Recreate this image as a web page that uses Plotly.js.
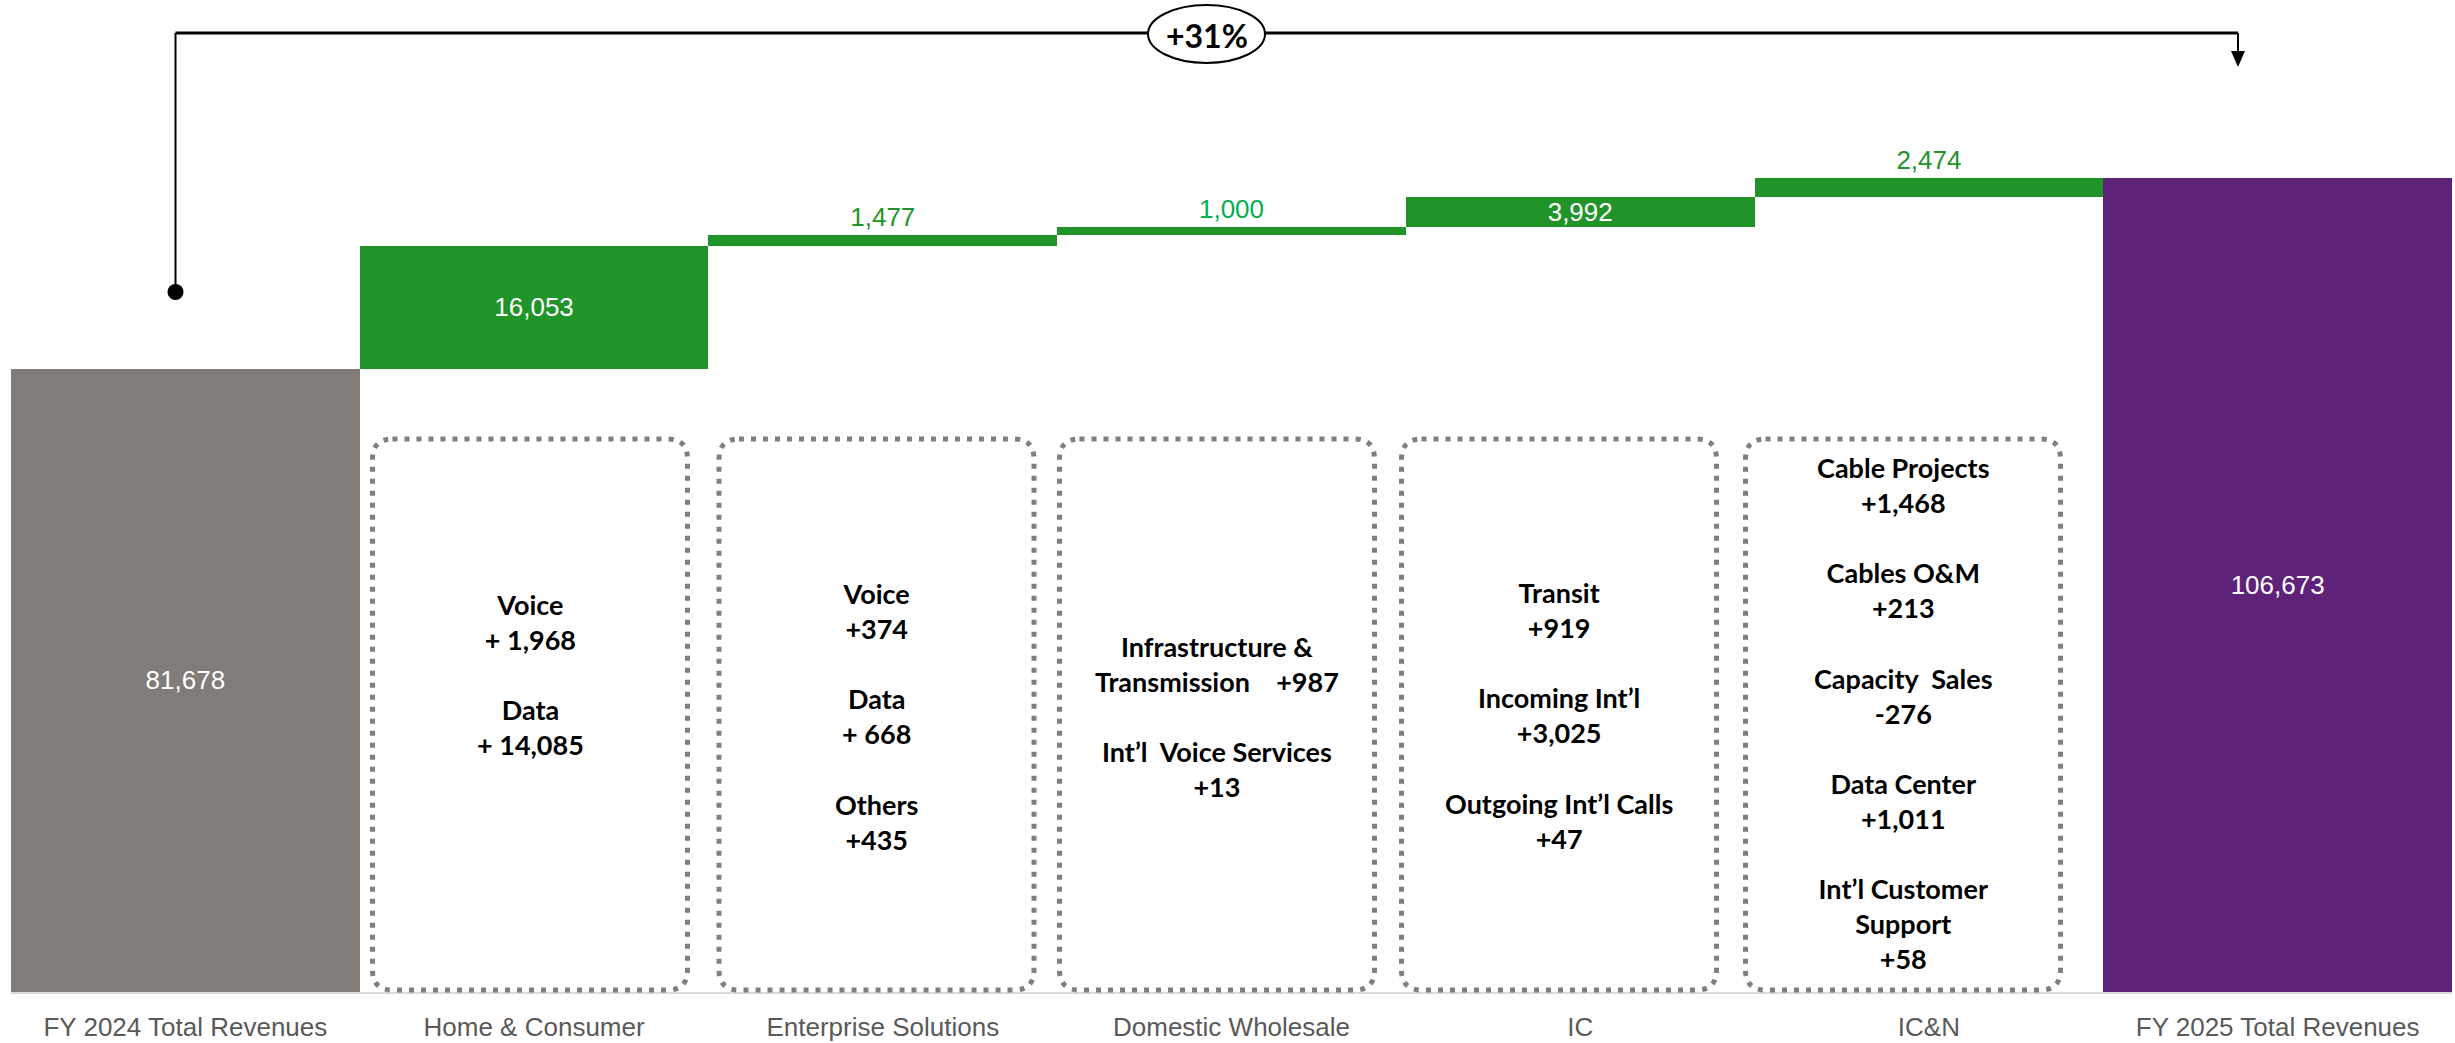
<!DOCTYPE html>
<html>
<head>
<meta charset="utf-8">
<script src="https://cdn.plot.ly/plotly-3.0.1.min.js"></script>
<style>html,body{margin:0;padding:0;background:#fff;}#chart{width:2455px;height:1043px;}</style>
</head>
<body>
<div id="chart"></div>
<script>
// ---------- DATA ----------
const categories = ["FY 2024 Total Revenues", "Home & Consumer", "Enterprise Solutions", "Domestic Wholesale", "IC", "IC&N", "FY 2025 Total Revenues"];
const startValue = 81678;
const increments = [16053, 1477, 1000, 3992, 2474];
const endValue = 106673;
const growthLabel = "+31%";

const homeDetails = ["Voice", "+ 1,968", "", "Data", "+ 14,085"];
const enterpriseDetails = ["Voice", "+374", "", "Data", "+ 668", "", "Others", "+435"];
const domesticDetails = ["Infrastructure &", "Transmission\u00a0\u00a0\u00a0\u00a0+987", "", "Int\u2019l\u00a0\u00a0Voice Services", "+13"];
const icDetails = ["Transit", "+919", "", "Incoming Int\u2019l", "+3,025", "", "Outgoing Int\u2019l Calls", "+47"];
const icnDetails = ["Cable Projects", "+1,468", "", "Cables O&M", "+213", "", "Capacity\u00a0\u00a0Sales", "-276", "", "Data Center", "+1,011", "", "Int\u2019l Customer", "Support", "+58"];

// ---------- STYLE ----------
const GREY = "#817C78", GREEN = "#219429", PURPLE = "#5E2279", BRIGHT = "#00B050";
const W = 2455, H = 1043, ML = 11, MR = 3, MT = 0, MB = 51;
const PW = W - ML - MR, PH = H - MT - MB;
const px = v => (v - ML) / PW;          // pixel x -> paper
const py = v => (PH + MT - v) / PH;     // pixel y -> paper

// ---------- BARS ----------
const values = [startValue].concat(increments).concat([endValue]);
const bases = [0];
let run = startValue;
increments.forEach(v => { bases.push(run); run += v; });
bases.push(0);
const colors = [GREY].concat(increments.map(() => GREEN)).concat([PURPLE]);
const labels = values.map(v => v.toLocaleString("en-US"));
const textPos = ["inside", "inside", "outside", "outside", "inside", "outside", "inside"];
const textCol = ["#ffffff", "#ffffff", GREEN, BRIGHT, "#ffffff", GREEN, "#ffffff"];

const trace = {
  type: "bar",
  x: categories,
  y: values,
  base: bases,
  marker: {color: colors, line: {width: 0}},
  text: labels,
  textposition: textPos,
  insidetextanchor: "middle",
  constraintext: "none",
  cliponaxis: false,
  textfont: {family: "Liberation Sans, Arial, sans-serif", size: 26, color: textCol},
  hoverinfo: "none"
};

// ---------- DECORATIONS ----------
const shapes = [];
const annotations = [];

// dotted rounded boxes
const boxCenters = [530, 876.5, 1217, 1559, 1903];
const boxW = 315, boxTop = 439, boxBot = 990, rad = 20;
const details = [homeDetails, enterpriseDetails, domesticDetails, icDetails, icnDetails];
const textCenters = [674, 716, 716, 715, 713];
boxCenters.forEach((c, i) => {
  const x0 = px(c - boxW / 2), x1 = px(c + boxW / 2);
  const y0 = py(boxBot), y1 = py(boxTop);
  const rx = rad / PW, ry = rad / PH;
  const path = `M ${x0 + rx},${y1} L ${x1 - rx},${y1} Q ${x1},${y1} ${x1},${y1 - ry} L ${x1},${y0 + ry} Q ${x1},${y0} ${x1 - rx},${y0} L ${x0 + rx},${y0} Q ${x0},${y0} ${x0},${y0 + ry} L ${x0},${y1 - ry} Q ${x0},${y1} ${x0 + rx},${y1} Z`;
  shapes.push({type: "path", xref: "paper", yref: "paper", path: path,
    line: {color: "#7F7F7F", width: 5, dash: "5px,7px"}, fillcolor: "rgba(0,0,0,0)"});
  annotations.push({xref: "paper", yref: "paper", x: px(c), y: py(textCenters[i]),
    xanchor: "center", yanchor: "middle", align: "center", showarrow: false,
    text: details[i].join("<br>"),
    font: {family: "Lato, Open Sans, sans-serif", size: 27, weight: 700, color: "#000000"}});
});

// growth bracket
const bx0 = 175.5, bx1 = 2238, bTop = 33;
shapes.push({type: "line", xref: "paper", yref: "paper", x0: px(bx0), x1: px(bx1), y0: py(bTop), y1: py(bTop), line: {color: "#000", width: 3}});
shapes.push({type: "line", xref: "paper", yref: "paper", x0: px(bx0), x1: px(bx0), y0: py(bTop), y1: py(292), line: {color: "#000", width: 2}});
shapes.push({type: "circle", xref: "paper", yref: "paper", x0: px(bx0 - 8), x1: px(bx0 + 8), y0: py(300), y1: py(284), fillcolor: "#000", line: {color: "#000", width: 0}});
shapes.push({type: "line", xref: "paper", yref: "paper", x0: px(bx1), x1: px(bx1), y0: py(bTop), y1: py(54), line: {color: "#000", width: 2}});
shapes.push({type: "path", xref: "paper", yref: "paper",
  path: `M ${px(bx1 - 7)},${py(51)} L ${px(bx1 + 7)},${py(51)} L ${px(bx1)},${py(67)} Z`,
  fillcolor: "#000", line: {color: "#000", width: 0}});
shapes.push({type: "circle", xref: "paper", yref: "paper", x0: px(1148), x1: px(1265), y0: py(63), y1: py(5), fillcolor: "#fff", line: {color: "#000", width: 2}});
annotations.push({xref: "paper", yref: "paper", x: px(1206.5), y: py(35), xanchor: "center", yanchor: "middle", showarrow: false,
  text: growthLabel, font: {family: "Lato, Open Sans, sans-serif", size: 32, weight: 700, color: "#000"}});

const layout = {
  width: W, height: H,
  margin: {l: ML, r: MR, t: MT, b: MB, pad: 0},
  paper_bgcolor: "#fff", plot_bgcolor: "#fff",
  bargap: 0,
  showlegend: false,
  xaxis: {type: "category", showline: true, linecolor: "#D9D9D9", linewidth: 2, ticks: "", showgrid: false, zeroline: false,
    automargin: false, ticklabelstandoff: 11,
    tickfont: {family: "Liberation Sans, Arial, sans-serif", size: 26, color: "#595959"}},
  yaxis: {visible: false, range: [0, 130000], showgrid: false, zeroline: false, fixedrange: true},
  shapes: shapes,
  annotations: annotations,
  uniformtext: {mode: false}
};

Plotly.newPlot("chart", [trace], layout, {displayModeBar: false, staticPlot: true});
</script>
</body>
</html>
